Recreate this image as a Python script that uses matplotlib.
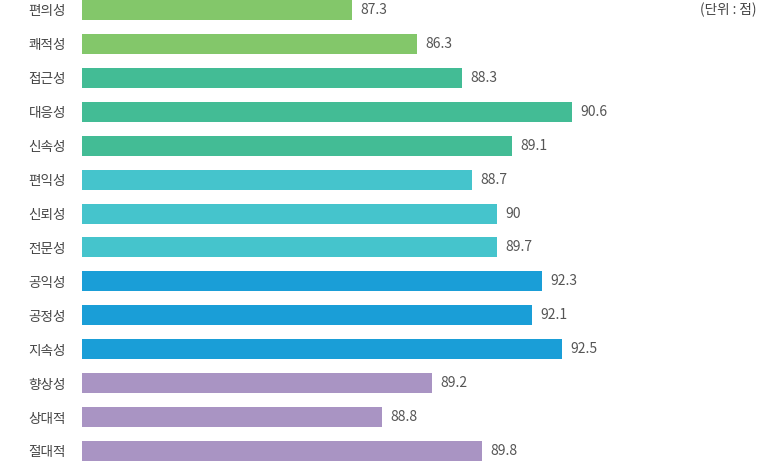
import matplotlib.pyplot as plt

plt.rcParams['font.family'] = ['Noto Sans CJK KR', 'DejaVu Sans']

# 항목 (위에서 아래로)
categories = ['편의성', '쾌적성', '접근성', '대응성', '신속성', '편익성', '신뢰성',
              '전문성', '공익성', '공정성', '지속성', '향상성', '상대적', '절대적']
# 표시된 점수
scores = ['87.3', '86.3', '88.3', '90.6', '89.1', '88.7', '90',
          '89.7', '92.3', '92.1', '92.5', '89.2', '88.8', '89.8']
# 그림에 그려진 막대 길이 (원본 막대 길이 그대로, 점수와 비례하지 않음)
bar_lengths = [270, 335, 380, 490, 430, 390, 415,
               415, 460, 450, 480, 350, 300, 400]
# 그룹별 색상
group_colors = ['#83C76A'] * 2 + ['#43BC95'] * 3 + ['#45C4CC'] * 3 + \
               ['#1A9ED7'] * 3 + ['#A994C3'] * 3

W, H = 760, 461
fig = plt.figure(figsize=(W / 100, H / 100), dpi=100)
ax = fig.add_axes([82 / W, 0, 1 - 82 / W, 1])

pitch = 33.92
ypos = list(range(len(categories)))
ax.barh(ypos, bar_lengths, height=20 / pitch, color=group_colors, left=0)
ax.set_xlim(0, W - 82)
ax.set_ylim((H - 10) / pitch, -10 / pitch)

for y, length, s in zip(ypos, bar_lengths, scores):
    ax.text(length + 8, y, s, va='center', ha='left', fontsize=10,
            color='#555555', fontweight='light')

ax.set_yticks(ypos)
ax.set_yticklabels(categories, fontsize=9.8, color='#444444')
ax.tick_params(axis='y', length=0, pad=11.5)
ax.set_xticks([])
for sp in ax.spines.values():
    sp.set_visible(False)

fig.text(757 / W, 1 - 10 / H, '(단위 : 점)', ha='right', va='center',
         fontsize=9.8, color='#444444')

fig.savefig('out.png', dpi=100)
